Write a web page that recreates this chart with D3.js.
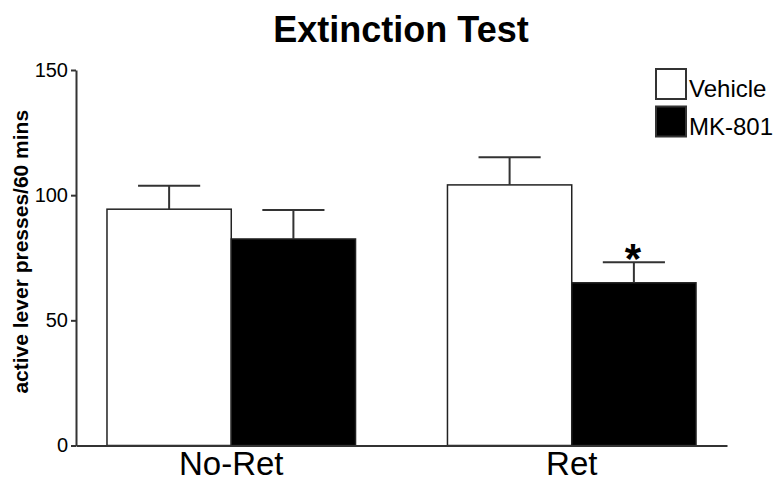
<!DOCTYPE html>
<html>
<head>
<meta charset="utf-8">
<script src="https://cdn.jsdelivr.net/npm/d3@7"></script>
<style>
  body { margin: 0; background: #fff; }
  text { font-family: Arial, "Liberation Sans", sans-serif; fill: #000; }
</style>
</head>
<body>
<div id="chart"></div>
<script>
// values
const groups = ['No-Ret', 'Ret'];
const series = ['Vehicle', 'MK-801'];
const vehicleMean = [94.4, 104.1];
const vehicleSem = [9.4, 11.0];
const mk801Mean = [82.5, 65.0];
const mk801Sem = [11.6, 8.2];
const yTicks = [0, 50, 100, 150];
const significant = [[], ['MK-801']];

const width = 779, height = 482;
const margin = {top: 70, right: 52, bottom: 36.5, left: 76};

const rows = [];
groups.forEach((g, i) => {
  rows.push({group: g, series: 'Vehicle', mean: vehicleMean[i], sem: vehicleSem[i], star: significant[i].includes('Vehicle')});
  rows.push({group: g, series: 'MK-801', mean: mk801Mean[i], sem: mk801Sem[i], star: significant[i].includes('MK-801')});
});

const svg = d3.select('#chart').append('svg')
    .attr('width', width)
    .attr('height', height);

const x0 = d3.scaleBand()
    .domain(groups)
    .range([margin.left, width - margin.right])
    .paddingInner(0.27)
    .paddingOuter(0.091);

const x1 = d3.scaleBand()
    .domain(series)
    .range([0, x0.bandwidth()]);

const y = d3.scaleLinear()
    .domain([0, 150])
    .range([height - margin.bottom, margin.top]);

const color = d3.scaleOrdinal()
    .domain(series)
    .range(['#fff', '#000']);

// title
svg.append('text')
    .attr('x', 401)
    .attr('y', 42)
    .attr('text-anchor', 'middle')
    .style('font-size', '36px')
    .style('font-weight', 'bold')
    .text('Extinction Test');

// bars
const barG = svg.append('g');
barG.selectAll('rect')
  .data(rows)
  .join('rect')
    .attr('x', d => x0(d.group) + x1(d.series))
    .attr('y', d => y(d.mean))
    .attr('width', x1.bandwidth())
    .attr('height', d => y(0) - y(d.mean))
    .attr('fill', d => color(d.series))
    .attr('stroke', '#222')
    .attr('stroke-width', 1.5);

// error bars (upper only)
const errG = svg.append('g')
  .selectAll('g')
  .data(rows)
  .join('g')
    .attr('transform', d => `translate(${x0(d.group) + x1(d.series) + x1.bandwidth() / 2},0)`);

errG.append('line')
    .attr('x1', 0).attr('x2', 0)
    .attr('y1', d => y(d.mean))
    .attr('y2', d => y(d.mean + d.sem))
    .attr('stroke', '#333')
    .attr('stroke-width', 2);

errG.append('line')
    .attr('x1', -x1.bandwidth() / 4).attr('x2', x1.bandwidth() / 4)
    .attr('y1', d => y(d.mean + d.sem))
    .attr('y2', d => y(d.mean + d.sem))
    .attr('stroke', '#333')
    .attr('stroke-width', 2);

errG.filter(d => d.star).append('text')
    .attr('x', -1)
    .attr('y', d => y(d.mean + d.sem) + 11)
    .attr('text-anchor', 'middle')
    .style('font-size', '42px')
    .style('font-weight', 'bold')
    .text('*');

// y axis
const yAxis = svg.append('g')
    .attr('transform', `translate(${margin.left},0)`)
    .call(d3.axisLeft(y).tickValues(yTicks).tickSize(5).tickPadding(3).tickSizeOuter(0));
yAxis.select('.domain').attr('stroke', '#333').attr('stroke-width', 2);
yAxis.selectAll('.tick line').attr('stroke', '#333').attr('stroke-width', 2);
yAxis.selectAll('.tick text')
    .style('font-size', '20px')
    .style('font-family', 'Arial, "Liberation Sans", sans-serif')
    .attr('fill', '#111');

// x axis
const xAxis = svg.append('g')
    .attr('transform', `translate(0,${y(0)})`)
    .call(d3.axisBottom(x0).tickSize(0).tickPadding(6).tickSizeOuter(0));
xAxis.select('.domain').attr('stroke', '#333').attr('stroke-width', 2);
xAxis.selectAll('.tick text')
    .style('font-size', '33px')
    .style('font-family', 'Arial, "Liberation Sans", sans-serif')
    .attr('fill', '#000');

// y axis label
svg.append('text')
    .attr('transform', `translate(28,${(y(0) + y(150)) / 2 - 6}) rotate(-90)`)
    .attr('text-anchor', 'middle')
    .style('font-size', '21px')
    .style('font-weight', 'bold')
    .text('active lever presses/60 mins');

// legend
const legend = svg.append('g')
  .selectAll('g')
  .data(series)
  .join('g')
    .attr('transform', (d, i) => `translate(656,${69 + i * 37.5})`);

legend.append('rect')
    .attr('width', 30)
    .attr('height', 30)
    .attr('fill', d => color(d))
    .attr('stroke', '#333')
    .attr('stroke-width', 2);

legend.append('text')
    .attr('x', 33)
    .attr('y', 28)
    .style('font-size', '24px')
    .text(d => d);
</script>
</body>
</html>
